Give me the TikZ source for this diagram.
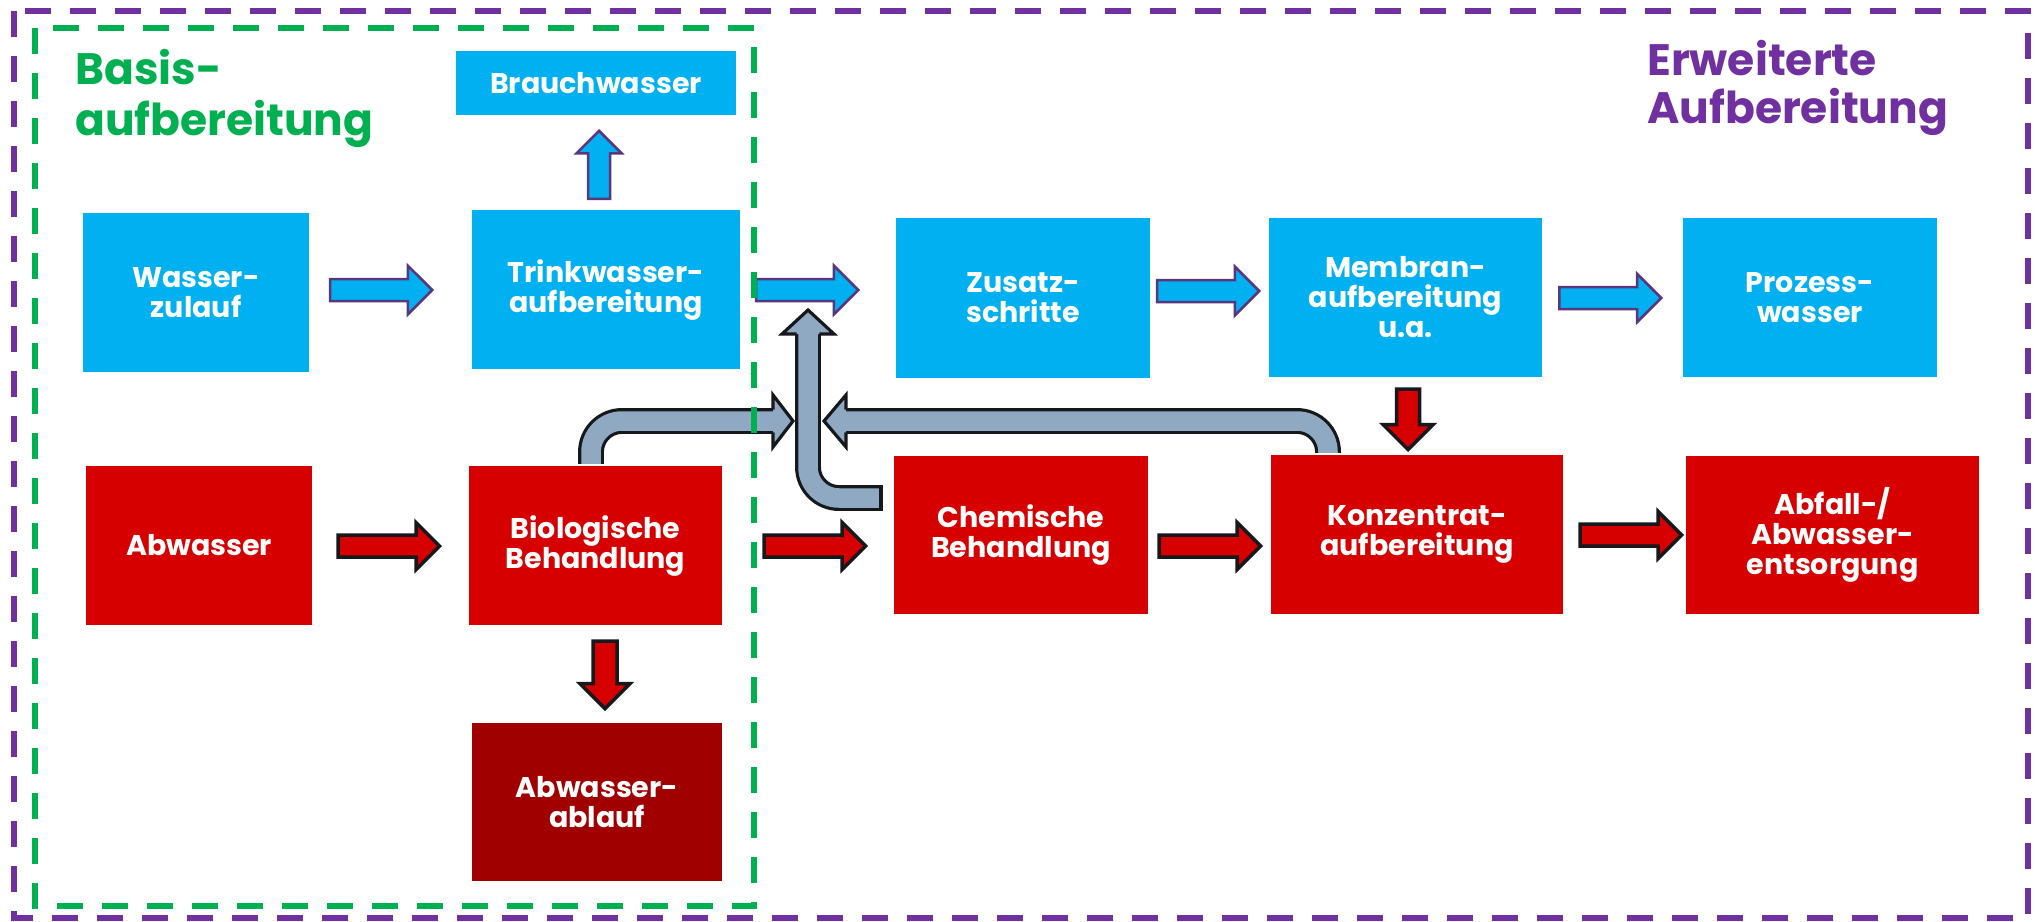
\documentclass[tikz,border=0pt]{standalone}
\usepackage{fontspec}
\setmainfont{Poppins}
\usetikzlibrary{shapes.arrows}
\definecolor{wblue}{RGB}{0,176,240}
\definecolor{wred}{RGB}{214,0,0}
\definecolor{wdark}{RGB}{160,0,0}
\definecolor{wgrey}{RGB}{142,169,193}
\definecolor{wline}{RGB}{90,55,125}
\definecolor{wblack}{RGB}{22,24,28}
\definecolor{wgreen}{RGB}{0,176,80}
\definecolor{wpurple}{RGB}{112,48,160}

\begin{document}
\begin{tikzpicture}[x=1pt,y=-1pt,
    box/.style={rectangle,inner sep=0pt,text=white,align=center,font=\bfseries\fontsize{28.5pt}{30pt}\selectfont},
    blue node/.style={box,fill=wblue},
    red node/.style={box,fill=wred},
    dark node/.style={box,fill=wdark},
    title/.style={anchor=base west,inner sep=0pt,align=left,font=\bfseries\fontsize{44pt}{51pt}\selectfont},
    blue arrow/.style={single arrow,draw=wline,fill=wblue,line width=2.5pt,inner sep=9.75pt,anchor=tip},
    red arrow/.style={single arrow,draw=wblack,fill=wred,line width=3.5pt,inner sep=9.25pt,anchor=tip},
    grey pipe/.style={draw=wblack,double=wgrey,double distance=19.5pt,line width=3.2pt,rounded corners=31pt},
    grey head/.style={fill=wgrey,draw=wblack,line width=3.2pt,line join=miter},
    frame/.style={dash pattern=on 26pt off 19pt,line width=6pt}]
   \path[use as bounding box,fill=white] (0,0) rectangle (2037,921);

   % titles
   \node[title,text=wgreen] (basis) at (75,135) {Basis-\\aufbereitung};
   \node[title,text=wpurple,font=\bfseries\fontsize{44pt}{48pt}\selectfont] (erw) at (1647,123) {Erweiterte\\Aufbereitung};

   % water line
   \node[blue node,minimum width=226pt,minimum height=159pt] (wz) at (196,292.5) {Wasser-\\zulauf};
   \node[blue node,minimum width=268pt,minimum height=159pt] (tw) at (606,289.5) {Trinkwasser-\\aufbereitung};
   \node[blue node,minimum width=280pt,minimum height=64pt] (bw) at (596,83) {Brauchwasser};
   \node[blue node,minimum width=254pt,minimum height=160pt] (zs) at (1023,298) {Zusatz-\\schritte};
   \node[blue node,minimum width=273pt,minimum height=159pt] (mb) at (1405.5,297.5) {Membran-\\aufbereitung\\u.a.};
   \node[blue node,minimum width=254pt,minimum height=159pt] (pw) at (1810,297.5) {Prozess-\\wasser};

   % waste water line
   \node[red node,minimum width=226pt,minimum height=159pt] (aw) at (199,545.5) {Abwasser};
   \node[red node,minimum width=253pt,minimum height=159pt] (bio) at (595.5,545.5) {Biologische\\Behandlung};
   \node[red node,minimum width=254pt,minimum height=158pt] (ch) at (1021,535) {Chemische\\Behandlung};
   \node[red node,minimum width=292pt,minimum height=159pt] (kz) at (1417,534.5) {Konzentrat-\\aufbereitung};
   \node[red node,minimum width=293pt,minimum height=158pt] (ab) at (1832.5,535) {Abfall-/\\Abwasser-\\entsorgung};
   \node[dark node,minimum width=250pt,minimum height=158pt] (al) at (597,802) {Abwasser-\\ablauf};

   % block arrows
   \node[blue arrow,minimum height=102pt,minimum width=46pt,single arrow head extend=13.25pt] (a1) at (434,290) {};
   \node[blue arrow,minimum height=102pt,minimum width=46pt,single arrow head extend=13.25pt] (a2) at (860,290) {};
   \node[blue arrow,minimum height=102pt,minimum width=46pt,single arrow head extend=13.25pt] (a3) at (1261,291) {};
   \node[blue arrow,minimum height=102pt,minimum width=46pt,single arrow head extend=13.25pt] (a4) at (1663,298) {};
   \node[blue arrow,shape border rotate=90,minimum height=68pt,minimum width=42.5pt,single arrow head extend=11.5pt] (up) at (599,129) {};
   \node[red arrow,minimum height=101.5pt,minimum width=43.5pt,single arrow head extend=12.5pt] (r1) at (442,546) {};
   \node[red arrow,minimum height=101.5pt,minimum width=43.5pt,single arrow head extend=12.5pt] (r2) at (868,546) {};
   \node[red arrow,minimum height=101.5pt,minimum width=43.5pt,single arrow head extend=12.5pt] (r3) at (1263,546) {};
   \node[red arrow,minimum height=101.5pt,minimum width=43.5pt,single arrow head extend=12.5pt] (r4) at (1684,535) {};
   \node[red arrow,inner sep=10.25pt,shape border rotate=270,minimum height=67.5pt,minimum width=46.5pt,single arrow head extend=13pt] (d1) at (605,711) {};
   \node[red arrow,inner sep=9.75pt,shape border rotate=270,minimum height=60.5pt,minimum width=46.5pt,single arrow head extend=13.5pt] (d2) at (1408,452) {};

   % return pipes
   \coordinate (j1) at (773,421);
   \coordinate (j2) at (846,421);
   \coordinate (j3) at (808,334);
   \draw[grey pipe] ([xshift=-4.5pt,yshift=2pt]bio.north) |- (j1);
   \filldraw[grey head] (773,409.65) -- (773,395) -- (793,421) -- (773,447) -- (773,432.35);
   \draw[grey pipe] ([xshift=-89pt,yshift=2pt]kz.north) |- (j2);
   \filldraw[grey head] (846,409.65) -- (846,395) -- (824,421) -- (846,447) -- (846,432.35);
   \draw[grey pipe] ([xshift=-13pt,yshift=37pt]ch.west) -| (j3);
   \draw[draw=wblack,line width=3.2pt] (881,485.05) -- (881,510.95);
   \filldraw[grey head] (796.65,334) -- (782,334) -- (808,310) -- (834,334) -- (819.35,334);

   % frames
   \draw[frame,draw=wgreen] (35,28) rectangle (754,906);
   \draw[frame,draw=wpurple] (14,11) rectangle (2028,918);
\end{tikzpicture}
\end{document}
